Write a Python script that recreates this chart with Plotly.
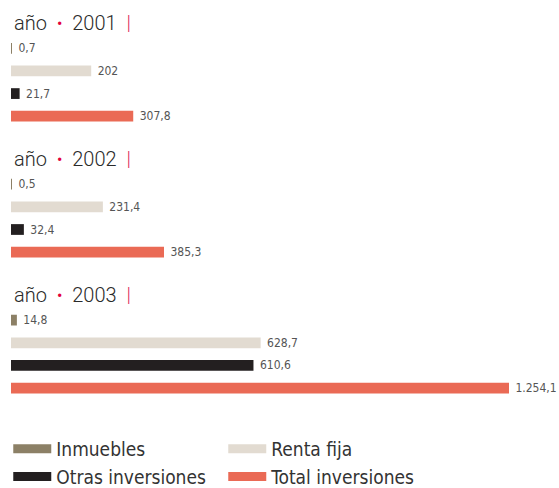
import plotly.graph_objects as go

years = ["2001", "2002", "2003"]
series = ["Inmuebles", "Renta fija", "Otras inversiones", "Total inversiones"]
inmuebles = [0.7, 0.5, 14.8]
renta_fija = [202, 231.4, 628.7]
otras = [21.7, 32.4, 610.6]
total = [307.8, 385.3, 1254.1]
colors = ["#8c8066", "#e2dbd1", "#231f20", "#ea6a55"]

values = [inmuebles, renta_fija, otras, total]


def fmt(v):
    if abs(v - round(v)) < 1e-9:
        s = f"{int(round(v)):,}"
        return s.replace(",", ".")
    s = f"{v:,.1f}"
    return s.replace(",", "X").replace(".", ",").replace("X", ".")


SLOTS = 6  # slots per year group (4 bars + title gap)
fig = go.Figure()
for si, (name, vals, col) in enumerate(zip(series, values, colors)):
    ys = [g * SLOTS + si for g in range(len(years))]
    fig.add_trace(go.Bar(
        x=vals, y=ys, orientation="h", width=0.475,
        marker=dict(color=col, line=dict(width=0)),
        text=["\u00a0" + fmt(v) for v in vals], textposition="outside",
        constraintext="none",
        textfont=dict(family="DejaVu Sans Condensed", size=12, color="#555555"),
        cliponaxis=False, showlegend=False, name=name,
    ))
    # legend entry
    fig.add_trace(go.Scatter(
        x=[None], y=[None], mode="lines", name=name,
        line=dict(color=col, width=9), showlegend=True,
    ))

for g, yr in enumerate(years):
    fig.add_annotation(
        x=0, y=g * SLOTS - 1.1, xref="x", yref="y",
        xanchor="left", yanchor="middle", xshift=1, showarrow=False,
        text=(f"año\u00a0 <span style='color:#e2003c;font-size:18px'>•</span>\u00a0 {yr}\u00a0 "
              f"<span style='color:#e0305a'>|</span>"),
        font=dict(family="Roboto", size=20, color="#2a2a2a", weight=300),
    )

fig.update_layout(
    width=559, height=488,
    margin=dict(l=11, r=0, t=0, b=58, autoexpand=False),
    plot_bgcolor="white", paper_bgcolor="white",
    barmode="overlay",
    xaxis=dict(range=[0, 1380], visible=False),
    yaxis=dict(range=[16.85, -2.13], visible=False),
    legend=dict(
        orientation="h", x=-0.005, y=0.0, xanchor="left", yanchor="top",
        entrywidth=162, traceorder="normal",
        font=dict(family="DejaVu Sans Condensed", size=19, color="#333333"),
        itemwidth=38, tracegroupgap=0,
    ),
)

fig.write_html("out.html", config={"displayModeBar": False},
               post_script="document.body.style.margin='0';document.body.style.overflow='hidden';")
